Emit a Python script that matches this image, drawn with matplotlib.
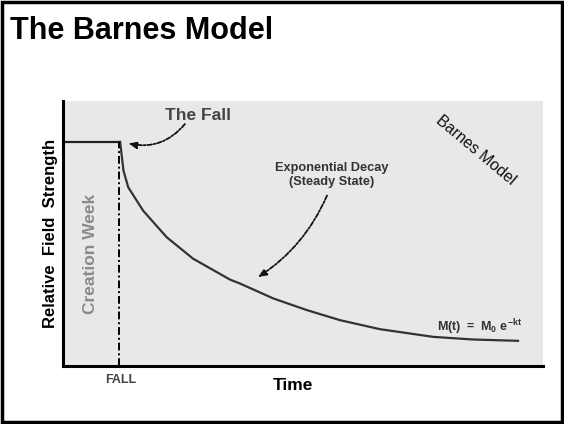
import matplotlib
matplotlib.use('Agg')
import matplotlib.pyplot as plt
from matplotlib.patches import Rectangle

# Data (axes run 0-100 in both directions)
flat_x = [0, 11.9]
flat_y = [84.6, 84.6]
fall_x = 11.7

decay_x = [11.9, 12.6, 13.6, 16.7, 21.6, 27.1, 34.8, 36.9, 43.8, 50.8,
           57.7, 66.0, 77.1, 85.4, 94.8]
decay_y = [84.6, 73.7, 67.4, 58.6, 48.6, 40.5, 32.6, 31.1, 25.5, 21.1,
           17.3, 13.9, 11.0, 10.0, 9.5]

plt.rcParams['font.family'] = ['Liberation Sans', 'DejaVu Sans']
plt.rcParams['mathtext.fontset'] = 'custom'
plt.rcParams['mathtext.rm'] = 'Liberation Sans'
plt.rcParams['mathtext.bf'] = 'Liberation Sans:bold'

fig = plt.figure(figsize=(5.64, 4.24), dpi=100)
fig.patch.set_facecolor('white')

# border round the whole slide
fig.add_artist(Rectangle((0.003, 0.004), 0.994, 0.992, transform=fig.transFigure,
                         fill=False, edgecolor='black', linewidth=2.5))

fig.text(10/564, 1 - 39/424, 'The Barnes Model', fontsize=22, fontweight='bold',
         ha='left', va='baseline', color='black')

ax = fig.add_axes([63/564, 58/424, 480/564, 265/424])
ax.set_facecolor('#e8e8e8')
ax.set_xlim(0, 100)
ax.set_ylim(0, 100)
ax.set_xticks([])
ax.set_yticks([])
for s in ['top', 'right']:
    ax.spines[s].set_visible(False)
for s in ['left', 'bottom']:
    ax.spines[s].set_linewidth(2.2)
    ax.spines[s].set_color('black')

# curves
ax.plot(flat_x, flat_y, color='#222222', lw=1.6, solid_capstyle='butt')
ax.plot(decay_x, decay_y, color='#333333', lw=1.6)
ax.plot([fall_x, fall_x], [0, flat_y[0]], color='black', lw=1.4,
        linestyle=(0, (4, 1.5, 1, 1.5)))

# labels
ax.text(-2.7, 50, 'Relative  Field  Strength', rotation=90, fontsize=12,
        fontweight='bold', ha='center', va='center', clip_on=False)
ax.text(5.8, 42.3, 'Creation Week', rotation=90, fontsize=12.5, fontweight='bold',
        color='#8a8a8a', ha='center', va='center')
ax.text(47.9, -7.3, 'Time', fontsize=12.5, fontweight='bold', ha='center',
        va='center', clip_on=False)
ax.text(12.0, -5.3, 'FALL', fontsize=9, fontweight='bold', color='#444444',
        ha='center', va='center', clip_on=False)

ax.text(28.1, 94.5, 'The Fall', fontsize=12.5, fontweight='bold', color='#444444',
        ha='center', va='center')
ax.annotate('', xy=(13.6, 84.0), xytext=(25.4, 91.3),
            arrowprops=dict(arrowstyle='-|>,head_length=0.5,head_width=0.2',
                            color='#111111', lw=1.3, linestyle=(0, (2.5, 1, 1, 1)),
                            connectionstyle='arc3,rad=-0.3',
                            shrinkA=0, shrinkB=0))

ax.text(56.0, 72.0, 'Exponential Decay\n(Steady State)', fontsize=9.2,
        fontweight='bold', color='#333333', ha='center', va='center',
        linespacing=1.25)
ax.annotate('', xy=(40.6, 33.5), xytext=(55.0, 64.3),
            arrowprops=dict(arrowstyle='-|>,head_length=0.5,head_width=0.2',
                            color='#111111', lw=1.3, linestyle=(0, (2.5, 1, 1, 1)),
                            connectionstyle='arc3,rad=-0.15',
                            shrinkA=0, shrinkB=0))

ax.text(86.8, 14.5, r'$\mathbf{M(t)\ =\ M_0\ e^{-kt}}$', fontsize=9,
        color='#333333', ha='center', va='center')

ax.text(86.0, 81.5, 'Barnes Model', rotation=-40, fontsize=11.5, color='#111111',
        family=['Liberation Sans Narrow', 'Liberation Sans'],
        ha='center', va='center', rotation_mode='anchor')

fig.savefig('out.png', dpi=100)
